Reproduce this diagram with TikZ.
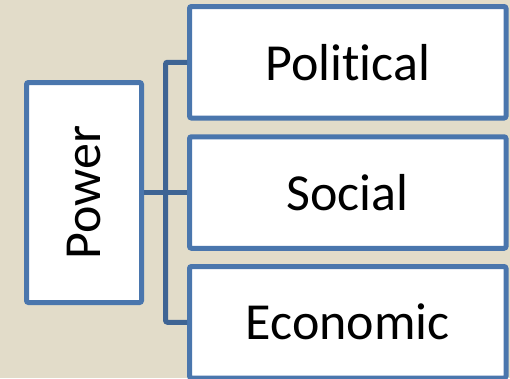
\documentclass[tikz,border=0pt]{standalone}
\usepackage{fontspec}
\setmainfont{Carlito}[Ligatures={NoCommon}]
\usetikzlibrary{calc}
\definecolor{PaperClr}{RGB}{226,220,201}
\definecolor{BoxClr}{RGB}{74,118,173}
\definecolor{LinkClr}{RGB}{62,100,148}

\begin{document}
\begin{tikzpicture}[x=1pt,y=-1pt,
  box/.style={draw=BoxClr,fill=white,line width=5pt,rounded corners=2pt,
    inner sep=0pt,font=\fontsize{52}{60}\selectfont},
  item/.style={box,minimum width=316.5pt,minimum height=111.5pt},
  link/.style={draw=LinkClr,line width=5pt,rounded corners=2pt}]
\useasboundingbox (0,0) rectangle (510,378);
\fill[PaperClr] (0,0) rectangle (510,378);

\begin{scope}
\clip (0,0) rectangle (510,378);

% left box, text turned upright
\node[box,minimum width=115pt,minimum height=220pt] (power) at (84,192.5) {};
\node[rotate=90,font=\fontsize{52}{60}\selectfont] (powerlbl) at (power.center) {Power};

% the three branches
\node[item] (pol) at (347.75,62.25) {Political};
\node[item] (soc) at (347.75,192.5) {Social};
\node[item] (econ) at (347.75,322.25) {Economic};

% connectors
\coordinate (bus) at (165.5,0);
\draw[link] (pol.west) -| (bus |- econ.west) -- (econ.west);
\draw[link] (power.east) -- (soc.west);
\end{scope}

\end{tikzpicture}
\end{document}
